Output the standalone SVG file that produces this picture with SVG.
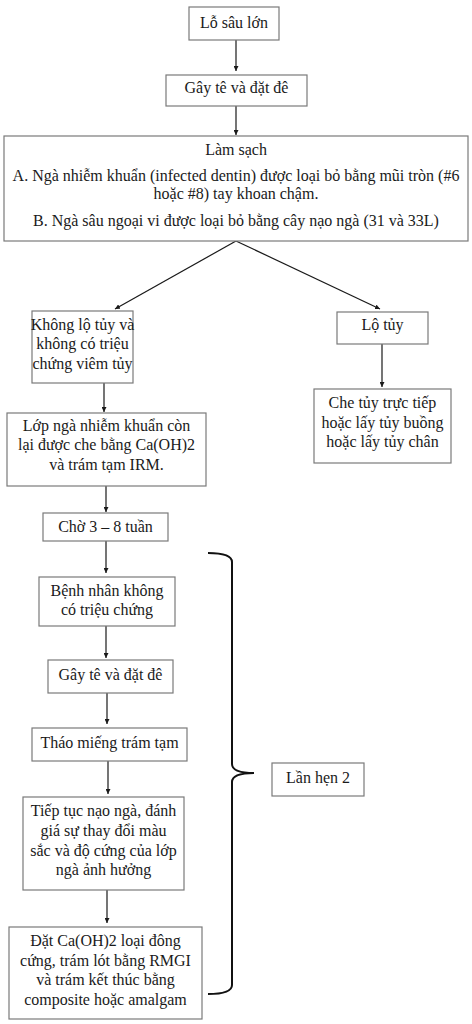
<svg xmlns="http://www.w3.org/2000/svg" width="472" height="1024" viewBox="0 0 472 1024">
<defs>
<marker id="ah" viewBox="0 0 10 10" refX="10" refY="5" markerWidth="5" markerHeight="5" orient="auto" markerUnits="userSpaceOnUse">
<path d="M0,0 L10,5 L0,10 z" fill="#1a1a1a"/>
</marker>
<style>
rect{fill:#fff;stroke:#7a7a7a;stroke-width:1.2}
text{font-family:'Liberation Serif','Times New Roman',Tinos,'DejaVu Serif',serif;font-size:16px;fill:#1a1a1a;text-anchor:middle}
.c{fill:none;stroke:#1a1a1a;stroke-width:1.2;marker-end:url(#ah)}
.br{fill:none;stroke:#111;stroke-width:2}
</style>
</defs>
<rect x="0" y="0" width="472" height="1024" style="fill:#fff;stroke:none"/>
<g id="connectors">
<line class="c" x1="236" y1="40" x2="236" y2="71"/>
<line class="c" x1="236" y1="106" x2="236" y2="135"/>
<line class="c" x1="236" y1="241" x2="115" y2="309"/>
<line class="c" x1="236" y1="241" x2="380" y2="309"/>
<line class="c" x1="382" y1="344" x2="382" y2="387"/>
<line class="c" x1="104" y1="383" x2="104" y2="412"/>
<line class="c" x1="106" y1="486" x2="106" y2="512"/>
<line class="c" x1="106" y1="541" x2="106" y2="573"/>
<line class="c" x1="106" y1="626" x2="106" y2="658"/>
<line class="c" x1="107" y1="693" x2="107" y2="724"/>
<line class="c" x1="108" y1="761" x2="108" y2="794"/>
<line class="c" x1="107" y1="890" x2="107" y2="923"/>
</g>
<g id="bracket">
<path class="br" d="M208,553 Q232,553 232,562 L232,764 Q232,773 254,773 Q232,773 232,782 L232,985 Q232,994 208,994"/>
</g>
<g font-family="Liberation Serif, serif">
<g id="n1"><rect x="189" y="7" width="90" height="33"/><text x="234" y="28">Lỗ sâu lớn</text></g>
<g id="n2"><rect x="166" y="75" width="141" height="31"/><text x="236.5" y="93">Gây tê và đặt đê</text></g>
<g id="n3"><rect x="4" y="136" width="464" height="105"/>
<text x="236" y="155">Làm sạch</text>
<text x="236" y="181">A. Ngà nhiễm khuẩn (infected dentin) được loại bỏ bằng mũi tròn (#6</text>
<text x="236" y="199">hoặc #8) tay khoan chậm.</text>
<text x="236" y="226">B. Ngà sâu ngoại vi được loại bỏ bằng cây nạo ngà (31 và 33L)</text>
</g>
<g id="n4"><rect x="32" y="311" width="101" height="72"/>
<text x="82.5" y="330">Không lộ tủy và</text>
<text x="82.5" y="349">không có triệu</text>
<text x="82.5" y="369">chứng viêm tủy</text>
</g>
<g id="n5"><rect x="337" y="312" width="91" height="32"/><text x="382.5" y="330">Lộ tủy</text></g>
<g id="n6"><rect x="314" y="389" width="137" height="74"/>
<text x="382.5" y="408">Che tủy trực tiếp</text>
<text x="382.5" y="428">hoặc lấy tủy buồng</text>
<text x="382.5" y="447">hoặc lấy tủy chân</text>
</g>
<g id="n7"><rect x="7" y="413" width="199" height="73"/>
<text x="106.5" y="431">Lớp ngà nhiễm khuẩn còn</text>
<text x="106.5" y="450">lại được che bằng Ca(OH)2</text>
<text x="106.5" y="470">và trám tạm IRM.</text>
</g>
<g id="n8"><rect x="43" y="513" width="125" height="28"/><text x="105.5" y="532">Chờ 3 – 8 tuần</text></g>
<g id="n9"><rect x="39" y="577" width="136" height="49"/>
<text x="107" y="596">Bệnh nhân không</text>
<text x="107" y="615">có triệu chứng</text>
</g>
<g id="n10"><rect x="48" y="660" width="125" height="33"/><text x="110.5" y="680">Gây tê và đặt đê</text></g>
<g id="n11"><rect x="32" y="728" width="155" height="33"/><text x="109.5" y="748">Tháo miếng trám tạm</text></g>
<g id="n12"><rect x="23" y="797" width="161" height="93"/>
<text x="103.5" y="816">Tiếp tục nạo ngà, đánh</text>
<text x="103.5" y="836">giá sự thay đổi màu</text>
<text x="103.5" y="856">sắc và độ cứng của lớp</text>
<text x="103.5" y="875">ngà ảnh hưởng</text>
</g>
<g id="n13"><rect x="9" y="927" width="193" height="92"/>
<text x="105.5" y="946">Đặt Ca(OH)2 loại đông</text>
<text x="105.5" y="966">cứng, trám lót bằng RMGI</text>
<text x="105.5" y="985">và trám kết thúc bằng</text>
<text x="105.5" y="1005">composite hoặc amalgam</text>
</g>
<g id="n14"><rect x="272" y="763" width="92" height="33"/><text x="318" y="783">Lần hẹn 2</text></g>
</g>
</svg>
